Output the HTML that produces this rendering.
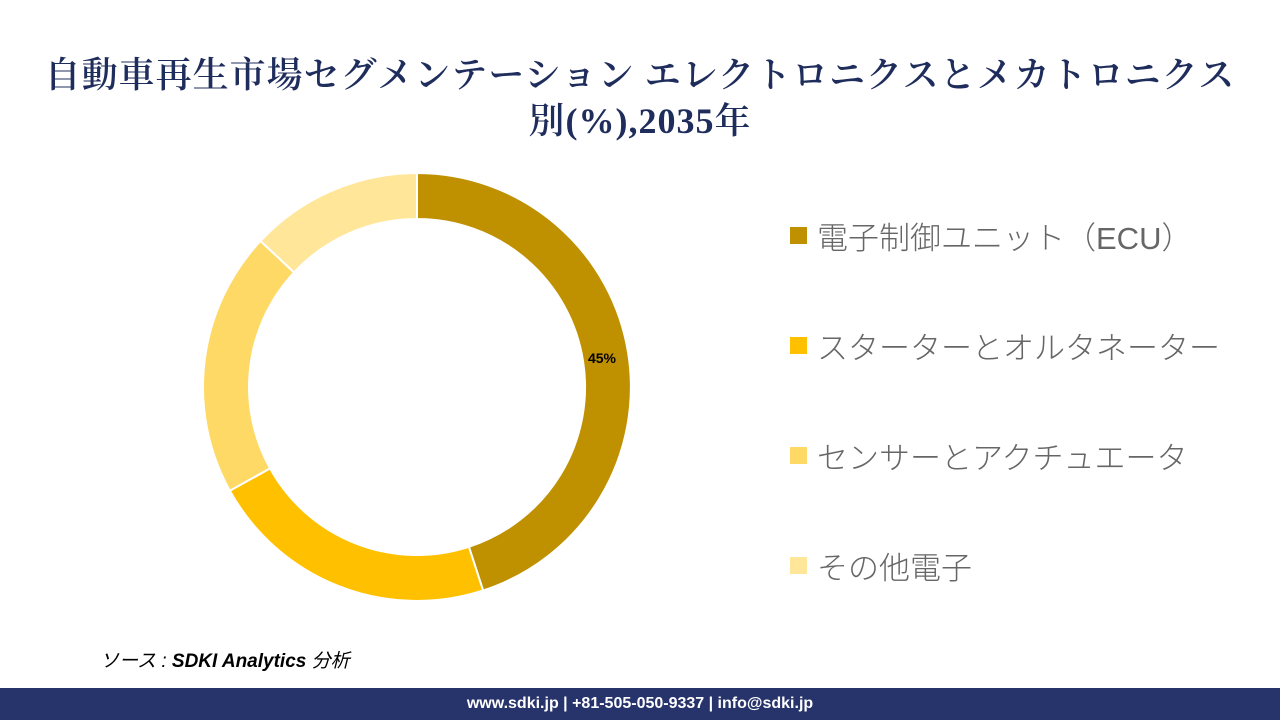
<!DOCTYPE html>
<html><head><meta charset="utf-8"><style>
body{margin:0;width:1280px;height:720px;background:#fff;position:relative;overflow:hidden;font-family:"Liberation Sans","Noto Sans CJK JP",sans-serif}
.title{position:absolute;top:52px;left:0;width:1280px;text-align:center;font-family:"Liberation Serif","Noto Serif CJK SC",serif;font-size:36px;line-height:46px;color:#1f2d5c;letter-spacing:1px;font-weight:600}
.leg{position:absolute;left:790px;font-size:31px;color:#666;display:flex;align-items:center;font-weight:300}
.leg span{display:inline-block;width:17px;height:17px;margin-right:10px}
.src{position:absolute;left:100px;top:646px;font-size:19px;font-style:italic;color:#000}
.foot{position:absolute;left:0;top:688px;width:1280px;height:32px;background:#27336b;color:#fff;font-weight:bold;font-size:16px;text-align:center;line-height:32px}
</style></head><body>
<div class="title">自動車再生市場セグメンテーション エレクトロニクスとメカトロニクス<br>別(%),2035年</div>
<svg width="1280" height="720" style="position:absolute;left:0;top:0">
<g transform="translate(417,387)" stroke="#fff" stroke-width="2">
<path d="M0,-214 A214,214 0 0 1 66.1,203.5 L51.9,159.8 A168,168 0 0 0 0,-168 Z" fill="#bf9000"/>
<path d="M66.1,203.5 A214,214 0 0 1 -187.2,103.7 L-146.9,81.4 A168,168 0 0 0 51.9,159.8 Z" fill="#ffc000"/>
<path d="M-187.2,103.7 A214,214 0 0 1 -156.5,-146.0 L-122.9,-114.6 A168,168 0 0 0 -146.9,81.4 Z" fill="#ffd966"/>
<path d="M-156.5,-146.0 A214,214 0 0 1 0,-214 L0,-168 A168,168 0 0 0 -122.9,-114.6 Z" fill="#ffe699"/>
</g>
<text x="602" y="363" font-size="14" font-weight="bold" text-anchor="middle" font-family="Liberation Sans,sans-serif">45%</text>
</svg>
<div class="leg" style="top:213px"><span style="background:#bf9000"></span>電子制御ユニット（ECU）</div>
<div class="leg" style="top:323px"><span style="background:#ffc000"></span>スターターとオルタネーター</div>
<div class="leg" style="top:433px"><span style="background:#ffd966"></span>センサーとアクチュエータ</div>
<div class="leg" style="top:543px"><span style="background:#ffe699"></span>その他電子</div>
<div class="src">ソース : <b>SDKI Analytics</b> 分析</div>
<div class="foot">www.sdki.jp | +81-505-050-9337 | info@sdki.jp</div>
</body></html>
